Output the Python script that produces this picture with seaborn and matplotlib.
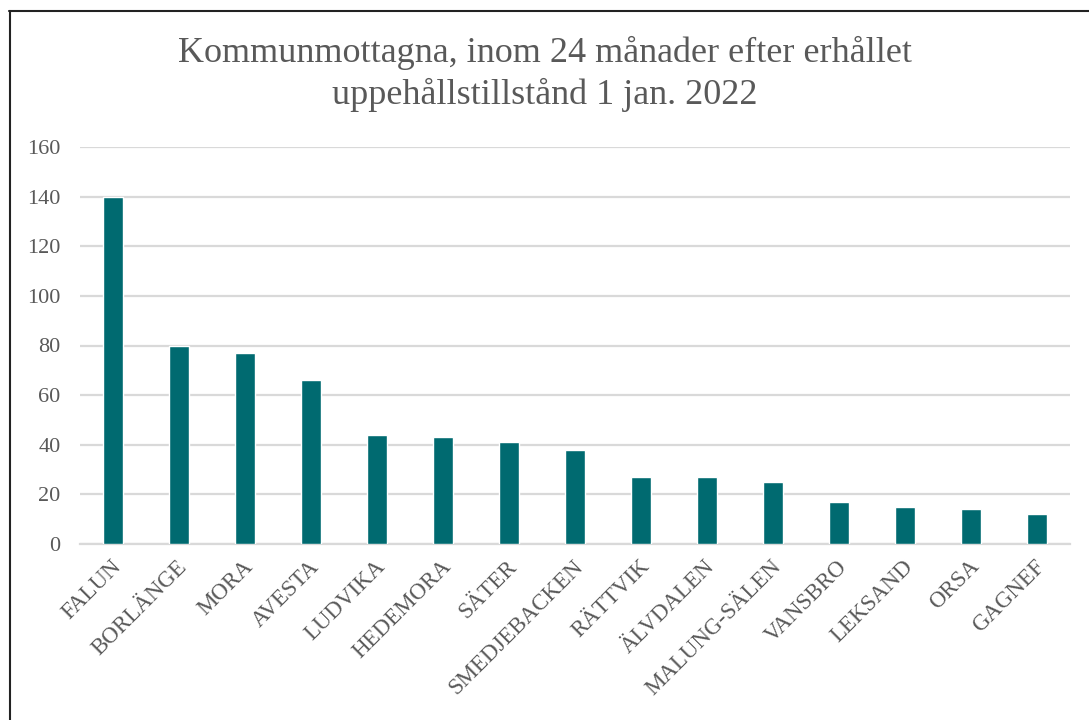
import matplotlib
matplotlib.use("Agg")
import matplotlib.pyplot as plt
import matplotlib.transforms as mtransforms
from matplotlib.lines import Line2D
import seaborn as sns
import pandas as pd

# data
kommuner = ["FALUN", "BORLÄNGE", "MORA", "AVESTA", "LUDVIKA", "HEDEMORA", "SÄTER",
            "SMEDJEBACKEN", "RÄTTVIK", "ÄLVDALEN", "MALUNG-SÄLEN", "VANSBRO",
            "LEKSAND", "ORSA", "GAGNEF"]
antal = [140, 80, 77, 66, 44, 43, 41, 38, 27, 27, 25, 17, 15, 14, 12]
y_ticks = [0, 20, 40, 60, 80, 100, 120, 140, 160]
title = "Kommunmottagna, inom 24 månader efter erhållet\nuppehållstillstånd 1 jan. 2022"

BAR = "#006A70"
TXT = "#595959"
GRID = "#D9D9D9"

sns.set_theme(style="white")
plt.rcParams["font.family"] = ["Liberation Serif", "DejaVu Serif"]

df = pd.DataFrame({"kommun": kommuner, "antal": antal})

fig = plt.figure(figsize=(10.89, 7.2), dpi=100)
ax = fig.add_axes([80 / 1089, 1 - 544 / 720, 990 / 1089, 397 / 720])

sns.barplot(data=df, x="kommun", y="antal", color=BAR, width=0.31,
            saturation=1, ax=ax, zorder=3)

ax.set_ylim(0, 160)
ax.set_yticks(y_ticks)
ax.set_xlim(-0.5, len(kommuner) - 0.5)
ax.yaxis.grid(True, color=GRID, linewidth=1.6, zorder=0)
ax.set_axisbelow(True)
for s in ["left", "right", "top"]:
    ax.spines[s].set_visible(False)
ax.spines["bottom"].set_color(GRID)
ax.spines["bottom"].set_linewidth(1.6)
ax.set_xlabel("")
ax.set_ylabel("")

ax.tick_params(axis="y", length=0, pad=14, labelsize=16, labelcolor=TXT)
ax.tick_params(axis="x", length=0, pad=14, labelsize=16.5, labelcolor=TXT)
# nudge the rotated labels a little to the right, like the reference
shift = mtransforms.ScaledTranslation(5 / 100, 0, fig.dpi_scale_trans)
for lbl in ax.get_xticklabels():
    lbl.set_rotation(45)
    lbl.set_ha("right")
    lbl.set_va("center")
    lbl.set_rotation_mode("anchor")
    lbl.set_transform(lbl.get_transform() + shift)

fig.text(0.5, 1 - 74 / 720, title, ha="center", va="center",
         fontsize=26, color=TXT, linespacing=1.3)

# chart frame (only left and top edges are visible in the reference)
fig.add_artist(Line2D([9.5 / 1089, 9.5 / 1089], [0, 1 - 11 / 720],
                      transform=fig.transFigure, color="#222222", linewidth=1.5))
fig.add_artist(Line2D([9 / 1089, 1], [1 - 11 / 720, 1 - 11 / 720],
                      transform=fig.transFigure, color="#222222", linewidth=1.5))

fig.savefig("out.png", dpi=100, facecolor="white")
